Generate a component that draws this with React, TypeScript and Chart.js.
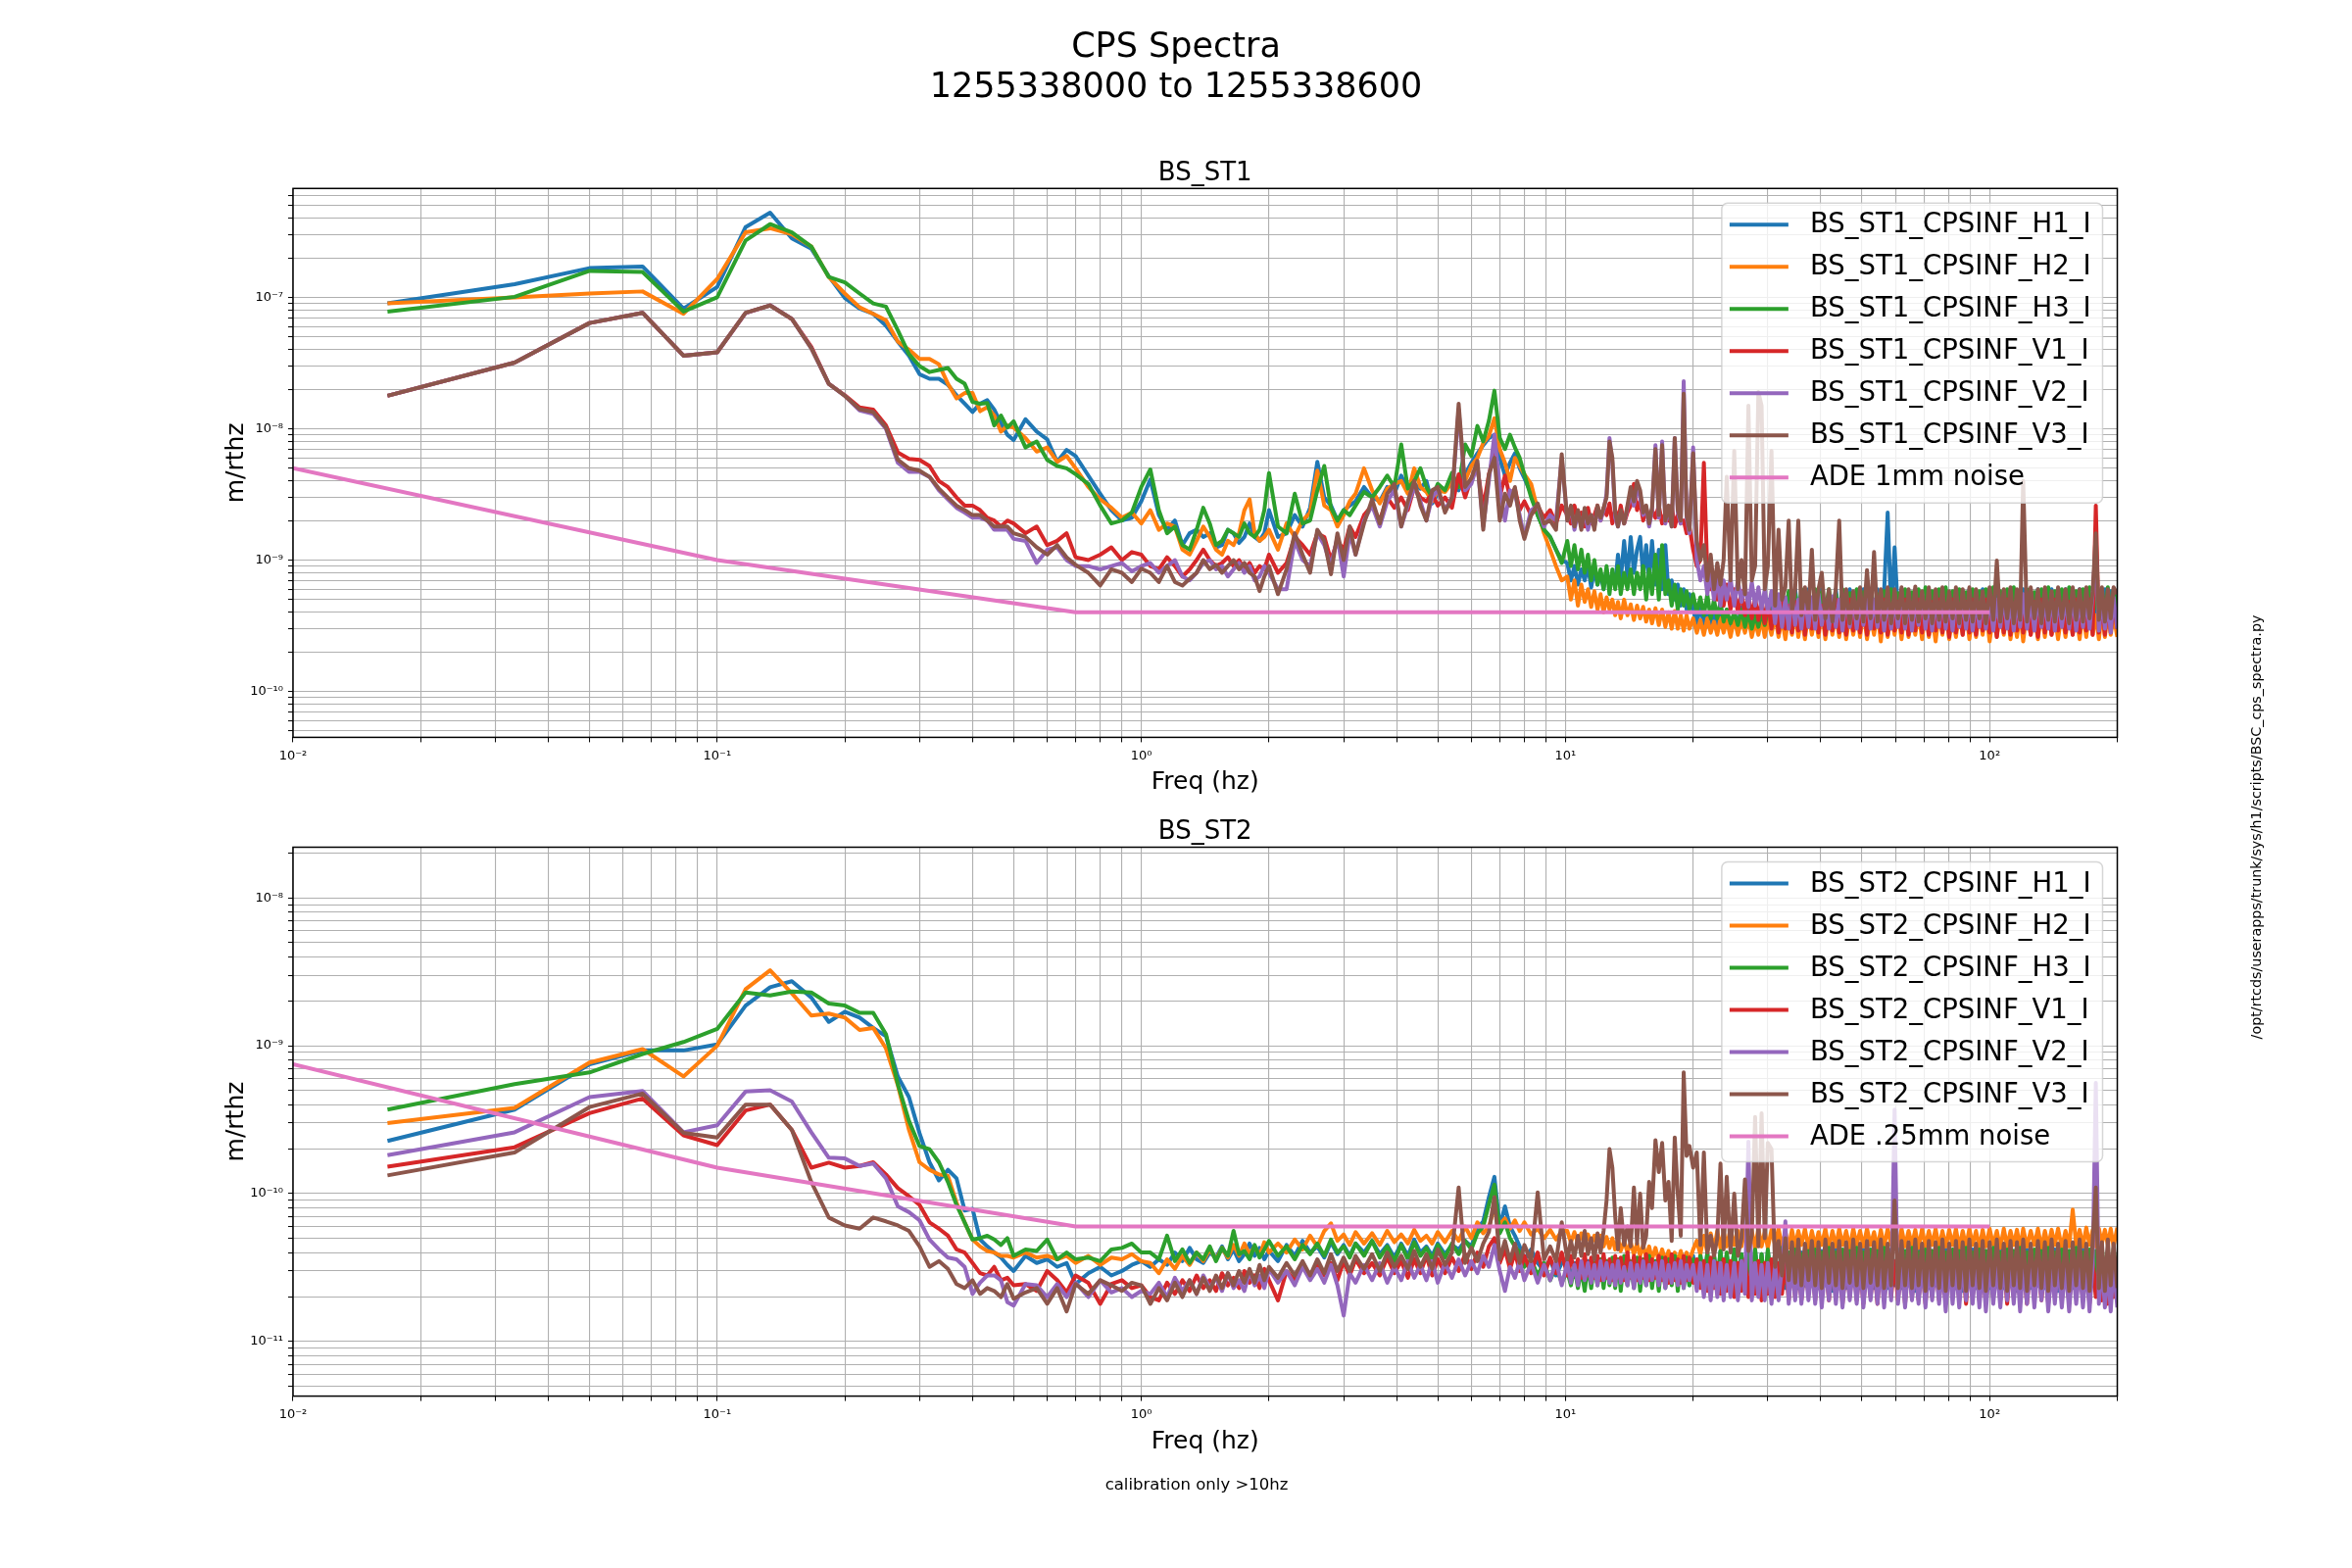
import { useEffect, useRef } from "react";
import { Chart, registerables } from "chart.js";

Chart.register(...registerables);

const FONT = "'DejaVu Sans', 'Liberation Sans', sans-serif";
Chart.defaults.font.family = FONT;

const COLORS = ["#1f77b4", "#ff7f0e", "#2ca02c", "#d62728", "#9467bd", "#8c564b", "#e377c2"];
const LINE_W = 4;

// Frequency grid (Hz) shared by every CPS spectrum
const FREQ = [
  0.0167, 0.0333, 0.05, 0.0667, 0.0833, 0.1, 0.1167, 0.1333, 0.15, 0.1667,
  0.1833, 0.2, 0.2167, 0.2333, 0.25, 0.2667, 0.2833, 0.3, 0.3167, 0.3333,
  0.35, 0.3667, 0.3833, 0.4, 0.4167, 0.4333, 0.45, 0.4667, 0.4833, 0.5,
  0.5333, 0.5667, 0.6, 0.6333, 0.6667, 0.7, 0.75, 0.8, 0.85, 0.9,
  0.95, 1.0,
  1.05, 1.1, 1.15, 1.2, 1.25, 1.3, 1.35, 1.4, 1.45, 1.5,
  1.55, 1.6, 1.65, 1.7, 1.75, 1.8, 1.85, 1.9, 1.95, 2.0,
  2.1, 2.2, 2.3, 2.4, 2.5, 2.6, 2.7, 2.8, 2.9, 3.0,
  3.1, 3.2, 3.35, 3.5, 3.65, 3.8, 3.95, 4.1, 4.25, 4.4,
  4.55, 4.7, 4.85, 5.0, 5.2, 5.4, 5.6, 5.8, 6.0, 6.2,
  6.4, 6.6, 6.8, 7.0, 7.2, 7.4, 7.6, 7.8, 8.0, 8.3,
  8.6, 8.9, 9.2, 9.5, 9.8,
  10.1, 10.3, 10.5, 10.7, 10.9, 11.1, 11.3, 11.5, 11.7, 11.9,
  12.1, 12.3, 12.5, 12.7, 12.9, 13.1, 13.3, 13.5, 13.75, 14,
  14.25, 14.5, 14.75, 15, 15.25, 15.5, 15.75, 16, 16.3, 16.6,
  16.9, 17.2, 17.5, 17.8, 18.1, 18.4, 18.7, 19, 19.3, 19.6,
  20, 20.4, 20.8, 21.2, 21.6, 22, 22.4, 22.8, 23.2, 23.6,
  24, 24.5, 25, 25.5, 26, 26.5, 27, 27.5, 28, 28.5,
  29, 29.5, 30, 30.6, 31.2, 31.8, 32.4, 33, 33.6, 34.2,
  34.8, 35.4, 36, 36.7, 37.4, 38.1, 38.8, 39.5, 40.2, 41,
  41.8, 42.6, 43.4, 44.2, 45, 45.9, 46.8, 47.7, 48.6, 49.5,
  50.4, 51.4, 52.4, 53.4, 54.4, 55.4, 56.4, 57.5, 58.6, 59.7,
  60.8, 62, 63.2, 64.4, 65.6, 66.8, 68, 69.3, 70.6, 71.9,
  73.2, 74.6, 76, 77.4, 78.8, 80.3, 81.8, 83.3, 84.8, 86.4,
  88, 89.6, 91.2, 92.9, 94.6, 96.3, 98, 100, 102, 104,
  106, 108, 110, 112, 114, 116, 118, 120, 122.5, 125,
  127.5, 130, 132.5, 135, 137.5, 140, 142.5, 145, 148, 151,
  154, 157, 160, 163, 166, 169, 172, 175, 178, 181,
  184, 187, 190, 193, 196, 200,
];

// ---- BS_ST1 spectra, in units of 1e-9 m/rtHz ----
const ST1_UNIT = 1e-9;
const ST1_H1 = [
  90, 126, 167, 172, 82, 120, 343, 441, 281, 235,
  145, 99, 82, 75, 61, 46, 36, 26, 24, 24,
  21.6, 18, 15.5, 13.4, 15.5, 16.5, 14, 11, 9, 8.2,
  11.8, 9.5, 8.3, 5.6, 6.9, 6.2, 4.4, 3.2, 2.4, 2.0,
  2.1, 2.8,
  4.1, 2.2, 1.7, 2.0, 1.3, 1.6, 1.7, 1.5, 1.6, 1.25,
  1.3, 1.7, 1.6, 1.35, 1.5, 1.9, 1.5, 1.4, 1.6, 2.4,
  1.5, 1.6, 2.2, 1.8, 2.5, 5.6, 3.0, 2.6, 2.0, 2.4,
  2.6, 2.8, 3.6, 3.0, 2.8, 3.6, 3.2, 4.4, 3.4, 3.8,
  3.5, 4.0, 2.7, 3.2, 3.5, 3.8, 3.4, 4.5, 5.5, 6.5,
  7.5, 8.5, 9.0, 6.0, 4.4, 5.5, 6.5, 5.0, 4.2, 3.2,
  2.2, 1.7, 1.5, 1.2, 1.0,
  0.95, 0.7, 0.9, 0.65, 0.85, 0.7, 0.9, 0.62, 0.85, 0.65,
  0.8, 0.6, 0.85, 0.62, 0.8, 0.65, 1.1, 0.7, 1.4, 0.75,
  1.5, 0.8, 1.2, 1.5, 0.75, 1.3, 0.7, 1.4, 0.65, 1.2,
  0.6, 1.3, 0.55, 0.7, 0.5, 0.65, 0.45, 0.6, 0.42, 0.55,
  0.42, 0.33, 0.45, 0.32, 0.4, 0.31, 0.42, 0.3, 0.4, 0.32,
  0.42, 0.3, 0.4, 0.32, 0.44, 0.3, 0.42, 0.33, 0.45, 0.32,
  0.45, 0.34, 0.5, 0.36, 0.55, 0.38, 0.58, 0.37, 0.55, 0.38,
  0.6, 0.37, 0.56, 0.38, 0.6, 0.36, 0.58, 0.4, 0.6, 0.37,
  0.56, 0.38, 0.6, 0.36, 0.58, 0.38, 0.6, 0.37, 0.55, 0.38,
  0.6, 0.37, 0.58, 0.38, 0.6, 0.36, 0.57, 2.3, 0.4, 1.25,
  0.4, 0.6, 0.37, 0.58, 0.38, 0.6, 0.36, 0.57, 0.38, 0.6,
  0.37, 0.58, 0.38, 0.6, 0.36, 0.56, 0.38, 0.6, 0.37, 0.58,
  0.38, 0.6, 0.36, 0.57, 0.38, 0.6, 0.37, 0.58, 0.38, 0.6,
  0.36, 0.58, 0.38, 0.6, 0.37, 0.56, 0.38, 0.6, 0.36, 0.58,
  0.38, 0.6, 0.37, 0.57, 0.38, 0.6, 0.36, 0.58, 0.38, 0.6,
  0.37, 0.58, 0.38, 0.6, 0.36, 0.57, 0.38, 0.6, 0.37, 0.58,
  0.38, 0.6, 0.36, 0.58, 0.38, 0.6,
];
const ST1_H2 = [
  90, 100, 107, 111, 75, 138, 313, 336, 302, 244,
  143, 107, 84, 75, 67, 46, 40, 34, 34, 31,
  22, 17, 18.7, 18.7, 13.6, 14.6, 12.6, 9.5, 10.6, 10.2,
  8.5, 6.7, 7.2, 5.6, 6.2, 5.0, 3.6, 2.9, 2.5, 2.1,
  2.3, 1.9,
  2.4, 1.7, 1.9, 1.8, 1.2, 1.1, 1.4, 1.8, 1.5, 1.2,
  1.1, 1.4, 1.3, 1.6, 2.4, 2.9, 1.6, 1.4, 1.5, 1.7,
  1.2, 1.9, 1.5, 2.0, 2.3, 4.8, 2.6, 2.4, 1.8, 2.2,
  2.8, 3.2, 5.0, 3.4, 2.7, 3.5, 3.8, 4.0, 3.2, 5.0,
  3.6, 3.3, 2.8, 3.4, 3.3, 3.9, 3.6, 4.0, 5.2, 6.0,
  7.8, 8.8, 12, 7.0, 5.5, 4.0, 6.0, 5.2, 4.5, 3.8,
  2.4, 1.6, 1.2, 0.9, 0.7,
  0.75, 0.5, 0.7, 0.45, 0.65, 0.48, 0.6, 0.44, 0.58, 0.42,
  0.55, 0.4, 0.52, 0.42, 0.5, 0.38, 0.48, 0.36, 0.5, 0.38,
  0.46, 0.35, 0.45, 0.36, 0.44, 0.34, 0.42, 0.33, 0.43, 0.32,
  0.42, 0.31, 0.4, 0.3, 0.41, 0.3, 0.38, 0.29, 0.38, 0.3,
  0.36, 0.28, 0.35, 0.27, 0.36, 0.28, 0.34, 0.27, 0.36, 0.28,
  0.35, 0.26, 0.36, 0.27, 0.35, 0.28, 0.36, 0.26, 0.34, 0.27,
  0.36, 0.26, 0.35, 0.27, 0.38, 0.26, 0.36, 0.25, 0.38, 0.27,
  0.4, 0.26, 0.37, 0.25, 0.4, 0.27, 0.38, 0.26, 0.42, 0.25,
  0.38, 0.27, 0.4, 0.26, 0.42, 0.25, 0.38, 0.27, 0.4, 0.26,
  0.42, 0.25, 0.38, 0.27, 0.4, 0.24, 0.42, 0.26, 0.38, 0.27,
  0.4, 0.25, 0.42, 0.26, 0.38, 0.27, 0.4, 0.25, 0.42, 0.26,
  0.38, 0.24, 0.4, 0.27, 0.42, 0.25, 0.38, 0.26, 0.4, 0.27,
  0.42, 0.25, 0.38, 0.26, 0.4, 0.27, 0.42, 0.24, 0.38, 0.26,
  0.4, 0.27, 0.42, 0.25, 0.38, 0.26, 0.4, 0.24, 0.42, 0.27,
  0.38, 0.25, 0.4, 0.26, 0.42, 0.27, 0.38, 0.25, 0.4, 0.26,
  0.42, 0.27, 0.38, 0.25, 0.4, 0.26, 0.42, 0.27, 0.38, 0.25,
  0.4, 0.26, 0.42, 0.27, 0.38, 0.26,
];
const ST1_H3 = [
  78, 101, 159, 156, 78, 100, 271, 361, 313, 244,
  143, 130, 107, 90, 85, 56, 37, 30, 27, 28,
  29, 24, 22, 16, 15.5, 15.7, 10.6, 12.6, 10.2, 11.4,
  7.2, 8.0, 5.8, 5.2, 5.0, 4.5, 3.8, 2.6, 1.9, 2.0,
  2.3, 3.6,
  4.9, 2.4, 1.6, 1.8, 1.3, 1.2, 1.7, 2.5, 1.9, 1.3,
  1.4, 1.7, 1.6, 1.5, 1.9, 1.6, 1.5, 1.7, 2.4, 4.6,
  1.8, 1.6, 3.2, 1.9, 2.0, 3.4, 5.2, 2.5, 2.0, 2.4,
  2.2, 2.6, 3.3, 3.0, 3.6, 4.4, 3.6, 7.6, 3.5, 4.0,
  5.0, 3.6, 3.0, 3.8, 3.4, 4.6, 3.6, 7.6, 6.2, 10.5,
  8.0, 11.5, 19.5, 8.5, 7.0, 9.0, 7.2, 6.0, 4.5, 3.0,
  2.2, 1.7, 1.5, 1.2, 0.95,
  1.4, 0.9, 1.3, 0.85, 1.2, 0.8, 1.1, 0.7, 1.0, 0.65,
  0.85, 0.6, 0.9, 0.55, 0.85, 0.6, 0.9, 0.55, 0.8, 0.6,
  0.85, 0.55, 0.8, 0.6, 0.9, 0.5, 0.85, 0.55, 1.1, 0.5,
  1.3, 0.55, 0.7, 0.45, 0.65, 0.42, 0.6, 0.45, 0.58, 0.42,
  0.55, 0.4, 0.52, 0.38, 0.55, 0.36, 0.5, 0.36, 0.48, 0.34,
  0.42, 0.33, 0.4, 0.32, 0.42, 0.31, 0.4, 0.3, 0.38, 0.31,
  0.4, 0.32, 0.42, 0.35, 0.5, 0.36, 0.55, 0.38, 0.58, 0.35,
  0.55, 0.37, 0.6, 0.38, 0.56, 0.36, 0.6, 0.38, 0.57, 0.4,
  0.6, 0.37, 0.55, 0.36, 0.6, 0.38, 0.56, 0.37, 0.6, 0.35,
  0.57, 0.38, 0.6, 0.36, 0.55, 0.38, 0.58, 0.36, 0.6, 0.37,
  0.56, 0.35, 0.6, 0.38, 0.57, 0.36, 0.6, 0.37, 0.62, 0.38,
  0.58, 0.36, 0.6, 0.38, 0.62, 0.37, 0.58, 0.36, 0.6, 0.38,
  0.57, 0.36, 0.6, 0.38, 0.58, 0.35, 0.6, 0.37, 0.62, 0.38,
  0.58, 0.36, 0.6, 0.37, 0.62, 0.38, 0.58, 0.36, 0.6, 0.38,
  0.57, 0.36, 0.6, 0.38, 0.62, 0.37, 0.58, 0.36, 0.6, 0.38,
  0.62, 0.37, 0.58, 0.36, 0.6, 0.38, 0.62, 0.37, 0.58, 0.36,
  0.6, 0.38, 0.62, 0.37, 0.6, 0.4,
];
const ST1_V1 = [
  17.8, 31.9, 63.8, 76.3, 36, 38.2, 76, 87, 68.5, 42,
  22, 18, 14.5, 14, 10.6, 6.6, 5.9, 5.8, 5.2, 4.0,
  3.6, 3.0, 2.6, 2.6, 2.4, 2.1, 2.0, 1.8, 2.0, 1.9,
  1.6, 1.8, 1.3, 1.4, 1.6, 1.05, 1.0, 1.1, 1.25, 1.0,
  1.15, 1.1,
  0.9, 0.85, 1.05, 0.9, 0.75, 0.85, 1.0, 1.2, 1.0, 0.9,
  0.95, 1.05, 0.9, 1.0, 0.85, 0.95, 0.8, 0.9, 0.85, 1.1,
  0.8, 0.95, 1.5, 1.3, 1.1, 1.6, 1.5, 1.0, 1.4, 1.2,
  1.8, 1.5, 2.2, 2.6, 2.0, 3.0, 2.5, 3.0, 2.4, 3.6,
  3.0, 2.8, 3.2, 2.6, 3.0, 2.5, 4.5, 3.0, 4.2, 5.0,
  2.5, 4.5, 6.5, 3.0, 4.4, 3.0, 3.5, 2.4, 2.8, 2.2,
  2.6, 2.1, 2.4, 1.9, 2.6,
  2.2, 1.9, 2.6, 2.0, 2.3, 1.8, 2.5, 1.9, 2.2, 2.6,
  2.0, 2.5, 2.2, 2.7, 1.9, 2.4, 2.0, 2.6, 1.9, 2.3,
  2.6, 3.8, 2.4, 2.8, 2.0, 2.5, 1.9, 2.4, 2.1, 2.6,
  1.9, 2.3, 2.0, 2.6, 1.8, 2.2, 1.9, 2.0, 1.6, 1.8,
  1.2, 0.9, 1.0, 5.5, 0.8, 0.6, 0.75, 0.5, 0.7, 0.45,
  0.65, 0.42, 0.6, 0.4, 0.58, 0.38, 0.55, 0.36, 0.52, 0.35,
  0.5, 0.33, 0.48, 0.3, 0.46, 0.28, 0.5, 0.3, 0.45, 0.28,
  0.48, 0.29, 0.5, 0.27, 0.46, 0.3, 0.5, 0.28, 0.45, 0.27,
  0.48, 0.29, 0.5, 0.28, 0.46, 0.27, 0.5, 0.29, 0.45, 0.28,
  0.48, 0.27, 0.5, 0.3, 0.46, 0.28, 0.5, 0.27, 0.45, 0.29,
  0.48, 0.28, 0.5, 0.27, 0.46, 0.29, 0.5, 0.28, 0.45, 0.27,
  0.48, 0.29, 0.5, 0.28, 0.46, 0.26, 0.5, 0.28, 0.45, 0.27,
  0.48, 0.28, 0.5, 0.27, 0.46, 0.29, 0.5, 0.28, 0.45, 0.26,
  0.48, 0.28, 0.5, 0.27, 0.46, 0.29, 0.5, 0.28, 0.45, 0.27,
  0.48, 0.26, 0.5, 0.28, 0.46, 0.27, 0.5, 0.29, 0.45, 0.28,
  0.48, 0.27, 0.5, 0.28, 0.46, 0.29, 0.5, 0.27, 2.6, 0.28,
  0.48, 0.27, 0.5, 0.28, 0.46, 0.3,
];
const ST1_V2 = [
  17.8, 31.9, 63.8, 76.3, 36, 38.2, 76, 87, 68.5, 41,
  22, 17.8, 13.8, 13, 10, 5.5, 4.7, 4.7, 4.3, 3.4,
  2.9, 2.5, 2.3, 2.1, 2.1, 2.0, 1.7, 1.7, 1.7, 1.45,
  1.4, 0.95, 1.2, 1.25, 1.0, 0.9, 0.9, 0.85, 0.9, 0.95,
  0.82, 0.9,
  0.95, 0.8, 0.9, 1.0, 0.75, 0.7, 0.8, 0.95, 1.0, 0.85,
  0.9, 0.75, 0.85, 0.95, 0.8, 0.9, 0.7, 0.75, 0.9, 0.8,
  0.6, 0.6, 1.4, 1.0, 0.9, 1.6, 1.3, 0.9, 1.5, 0.75,
  1.6, 1.1, 2.0, 2.6, 1.8, 2.8, 3.4, 1.8, 2.6, 3.6,
  2.8, 2.0, 3.0, 3.4, 2.4, 3.0, 14, 3.4, 3.8, 5.4,
  1.8, 4.0, 9.0, 3.6, 2.0, 3.4, 3.2, 2.2, 1.5, 2.4,
  2.6, 1.8, 2.2, 2.0, 6.0,
  2.0, 2.5, 1.7, 2.3, 1.8, 2.4, 1.7, 2.2, 1.8, 2.5,
  2.0, 2.4, 3.2, 8.5, 5.5, 2.1, 1.8, 2.3, 1.9, 2.5,
  3.2, 2.6, 3.6, 3.0, 2.2, 2.5, 1.8, 2.4, 7.5, 2.1,
  8.0, 1.9, 2.5, 1.8, 8.5, 2.3, 1.9, 23, 2.1, 1.6,
  7.2, 1.0, 0.7, 0.9, 0.55, 0.8, 0.5, 0.75, 0.45, 0.7,
  0.5, 0.72, 0.45, 0.7, 0.48, 0.65, 0.44, 0.68, 0.45, 0.62,
  0.42, 0.6, 0.4, 0.58, 0.33, 0.55, 0.31, 0.52, 0.3, 0.55,
  0.32, 0.5, 0.3, 0.54, 0.31, 0.52, 0.3, 0.55, 0.32, 0.5,
  0.3, 0.53, 0.31, 0.5, 0.29, 0.55, 0.31, 0.52, 0.3, 0.5,
  0.32, 0.54, 0.3, 0.5, 0.31, 0.55, 0.29, 0.52, 0.3, 0.5,
  0.31, 0.54, 0.3, 0.52, 0.29, 0.5, 0.32, 0.55, 0.3, 0.52,
  0.29, 0.5, 0.31, 0.54, 0.3, 0.52, 0.29, 0.55, 0.31, 0.5,
  0.3, 0.53, 0.29, 0.5, 0.31, 0.55, 0.3, 0.52, 0.29, 0.5,
  0.31, 0.54, 0.3, 0.5, 0.29, 0.52, 0.31, 0.55, 0.3, 0.5,
  0.29, 0.53, 0.31, 0.5, 0.3, 0.55, 0.29, 0.52, 0.31, 0.5,
  0.3, 0.54, 0.29, 0.5, 0.31, 0.52, 0.3, 0.55, 1.3, 0.29,
  0.52, 0.3, 0.5, 0.28, 0.52, 0.3,
];
const ST1_V3 = [
  17.8, 31.9, 63.8, 76.3, 36, 38.2, 76.3, 86.7, 68.5, 41,
  22, 17.8, 14.1, 13.4, 10.2, 5.8, 5.0, 4.8, 4.3, 3.5,
  3.0, 2.6, 2.4, 2.2, 2.2, 2.0, 1.8, 1.8, 1.8, 1.6,
  1.5, 1.25, 1.1, 1.3, 1.05, 0.92, 0.8, 0.64, 0.85, 0.8,
  0.68, 0.86,
  0.8, 0.68, 0.9, 0.68, 0.64, 0.72, 0.8, 1.0, 0.85, 0.92,
  0.8, 0.9, 1.0, 0.85, 0.95, 0.8, 0.75, 0.58, 0.75, 0.9,
  0.55, 0.85, 1.6, 1.1, 0.8, 1.7, 1.4, 0.78, 1.6, 1.0,
  1.8, 1.1, 1.9, 2.9, 1.9, 3.2, 3.8, 1.8, 2.8, 4.0,
  2.6, 2.0, 3.4, 3.6, 2.3, 3.0, 15.5, 3.6, 4.2, 5.7,
  1.7, 4.5, 6.0, 2.0, 3.2, 2.6, 3.6, 2.0, 1.45, 2.2,
  2.7, 1.9, 2.0, 1.7, 6.4,
  2.0, 2.6, 1.8, 2.4, 1.7, 2.5, 1.9, 2.2, 1.7, 2.6,
  2.1, 2.5, 3.0, 8.0, 6.0, 2.3, 1.8, 2.4, 1.9, 2.6,
  3.6, 2.8, 4.0, 3.4, 2.3, 2.6, 1.9, 2.5, 7.0, 2.2,
  7.5, 2.0, 2.6, 1.8, 8.5, 2.4, 2.0, 18.5, 2.2, 1.7,
  6.5, 1.4, 1.0, 1.3, 0.7, 1.1, 0.6, 0.95, 0.65, 1.0,
  4.3, 0.7, 6.8, 0.6, 1.0, 0.55, 15, 0.7, 0.9, 19,
  15, 0.6, 0.9, 6.8, 0.45, 1.7, 0.5, 0.62, 2.0, 0.4,
  0.6, 2.0, 0.38, 0.62, 0.4, 1.2, 0.35, 0.6, 0.8, 0.36,
  0.6, 0.34, 0.62, 2.0, 0.35, 0.6, 0.33, 0.58, 0.36, 0.62,
  0.34, 0.84, 0.36, 1.15, 0.34, 0.6, 0.35, 0.62, 0.33, 0.6,
  0.36, 0.62, 0.33, 0.6, 0.35, 0.63, 0.34, 0.58, 0.36, 0.62,
  0.33, 0.6, 0.35, 0.62, 0.34, 0.58, 0.36, 0.62, 0.33, 0.6,
  0.35, 0.62, 0.34, 0.6, 0.36, 0.58, 0.33, 0.62, 0.35, 0.99,
  0.34, 0.6, 0.36, 0.62, 0.33, 0.6, 0.35, 4.0, 0.34, 0.62,
  0.36, 0.6, 0.33, 0.62, 0.35, 0.58, 0.34, 0.62, 0.36, 0.6,
  0.33, 0.62, 0.35, 0.6, 0.34, 0.62, 0.36, 0.58, 1.6, 0.35,
  0.62, 0.34, 0.6, 0.36, 0.62, 0.55,
];

// ---- BS_ST2 spectra, in units of 1e-11 m/rtHz ----
const ST2_UNIT = 1e-11;
const ST2_H1 = [
  22.7, 37, 75, 93, 93, 102, 187, 249, 273, 212,
  145, 170, 155, 132, 116, 62, 45, 25.6, 16.3, 12.3,
  14.5, 12.7, 7.7, 7.9, 4.9, 4.4, 4.0, 3.7, 3.3, 3.0,
  3.8, 3.4, 3.6, 3.2, 3.4, 2.45, 2.9, 3.2, 2.8, 3.0,
  3.3, 3.5,
  3.2, 3.6, 3.3, 4.0, 3.5, 4.3, 3.6, 3.4, 4.0, 3.7,
  4.4, 3.6, 4.2, 3.5, 3.9, 4.6, 3.8, 4.3, 3.6, 4.1,
  3.5, 4.5, 3.8, 4.8, 4.0, 4.4, 3.7, 4.7, 3.9, 4.5,
  3.8, 4.6, 4.0, 4.8, 3.9, 4.5, 3.7, 4.6, 3.8, 4.9,
  4.0, 4.4, 3.8, 4.6, 3.9, 4.5, 4.2, 4.8, 4.4, 5.8,
  6.5, 9.5, 13, 6.0, 8.2, 6.0, 5.2, 4.4, 3.6, 4.2,
  3.4, 3.0, 3.6, 2.8, 3.4,
  3.6, 2.6, 3.4, 2.5, 3.3, 2.6, 3.5, 2.7, 3.4, 2.6,
  3.6, 2.7, 3.3, 2.5, 3.4, 2.6, 3.5, 2.7, 3.3, 2.5,
  3.4, 2.6, 3.6, 2.7, 3.3, 2.5, 3.4, 2.6, 3.5, 2.7,
  3.3, 2.5, 3.4, 2.6, 3.3, 2.5, 3.4, 2.6, 3.5, 2.4,
  3.8, 2.5, 3.9, 2.4, 4.0, 2.5, 3.8, 2.4, 4.1, 2.5,
  3.9, 2.4, 4.2, 2.5, 3.9, 2.3, 4.0, 2.4, 4.2, 2.5,
  3.9, 2.3, 4.1, 2.4, 4.0, 2.5, 4.2, 2.3, 3.9, 2.4,
  4.1, 2.3, 4.0, 2.4, 4.2, 2.5, 3.9, 2.3, 4.1, 2.4,
  4.0, 2.2, 4.2, 2.4, 3.9, 2.3, 4.1, 2.4, 4.0, 2.3,
  4.2, 2.4, 3.9, 2.3, 4.1, 2.4, 4.0, 2.3, 4.2, 2.4,
  3.9, 2.3, 4.1, 2.4, 4.0, 2.2, 4.2, 2.4, 3.9, 2.3,
  4.1, 2.4, 4.0, 2.3, 4.2, 2.4, 3.9, 2.3, 4.1, 2.2,
  4.0, 2.4, 4.2, 2.3, 3.9, 2.4, 4.1, 2.3, 4.0, 2.4,
  4.2, 2.3, 3.9, 2.4, 4.1, 2.2, 4.0, 2.4, 4.2, 2.3,
  3.9, 2.4, 4.1, 2.3, 4.0, 2.4, 4.2, 2.2, 3.9, 2.4,
  4.1, 2.3, 4.0, 2.4, 4.2, 2.3, 3.9, 2.4, 4.1, 2.3,
  4.0, 2.4, 4.2, 2.3, 3.9, 2.4,
];
const ST2_H2 = [
  30, 38, 77, 95, 62, 100, 241, 324, 226, 160,
  165, 155, 128, 132, 96, 54, 27, 16.3, 14.5, 13.5,
  13.2, 8.7, 6.4, 4.9, 4.4, 4.1, 4.0, 3.8, 3.8, 3.7,
  4.0, 3.7, 3.8, 3.6, 3.8, 3.4, 3.8, 3.3, 3.7, 3.6,
  3.9, 3.5,
  3.4, 2.9, 3.6, 3.1, 3.8, 3.3, 4.0, 3.5, 4.2, 3.6,
  4.3, 3.7, 4.5, 3.8, 4.6, 3.9, 4.4, 3.8, 4.7, 4.0,
  4.6, 4.0, 4.9, 4.2, 5.2, 4.4, 5.6, 6.3, 4.8, 5.3,
  4.5, 5.5, 4.6, 5.4, 4.5, 5.6, 4.7, 5.3, 4.6, 5.7,
  4.8, 5.2, 4.6, 5.5, 4.7, 5.6, 4.8, 6.0, 5.0, 6.4,
  5.4, 6.0, 8.0, 6.2, 6.8, 5.8, 6.6, 5.6, 6.4, 5.3,
  5.8, 5.0, 5.7, 4.9, 5.6,
  5.6, 4.7, 5.5, 4.6, 5.4, 4.5, 5.3, 4.6, 5.2, 4.4,
  5.2, 4.4, 5.1, 4.3, 5.0, 4.2, 4.9, 4.1, 4.8, 4.0,
  4.7, 3.9, 4.6, 3.8, 4.5, 3.7, 4.4, 3.6, 4.3, 3.5,
  4.2, 3.5, 4.1, 3.4, 4.0, 3.4, 4.1, 3.3, 4.0, 3.5,
  4.2, 4.8, 3.9, 5.2, 4.0, 5.4, 4.2, 5.6, 4.3, 5.5,
  4.4, 5.8, 4.5, 5.6, 4.4, 5.8, 4.5, 5.6, 4.3, 5.8,
  4.4, 5.5, 4.3, 5.7, 4.5, 5.8, 4.4, 5.5, 4.3, 5.7,
  4.4, 5.6, 4.5, 5.8, 4.3, 5.6, 4.4, 5.5, 4.5, 5.8,
  4.3, 5.6, 4.4, 5.8, 4.5, 5.6, 4.3, 5.8, 4.5, 5.6,
  4.4, 5.8, 4.5, 5.5, 4.3, 5.7, 4.4, 5.8, 4.5, 5.6,
  4.3, 5.8, 4.4, 5.6, 4.5, 5.7, 4.3, 5.8, 4.4, 5.6,
  4.5, 5.8, 4.3, 5.6, 4.4, 5.7, 4.5, 5.8, 4.3, 5.6,
  4.4, 5.8, 4.5, 5.6, 4.3, 5.7, 4.4, 5.8, 4.5, 5.6,
  4.3, 5.8, 4.4, 5.6, 4.5, 5.7, 4.3, 5.8, 4.4, 5.6,
  4.5, 5.8, 4.3, 5.6, 4.4, 5.7, 4.5, 5.8, 4.3, 5.6,
  4.4, 7.8, 4.5, 5.7, 4.4, 5.9, 4.5, 5.7, 4.4, 5.8,
  4.6, 5.7, 4.5, 5.8, 4.4, 5.9,
];
const ST2_H3 = [
  37, 55, 66, 88, 106, 130, 229, 219, 233, 229,
  193, 187, 167, 167, 120, 55, 31, 21, 20, 16.3,
  12, 8.4, 6.4, 4.9, 5.0, 5.2, 4.9, 4.5, 5.0, 3.8,
  4.2, 4.1, 4.9, 3.6, 4.0, 3.6, 3.7, 3.5, 4.2, 4.3,
  4.6, 4.0,
  4.0, 3.6, 5.2, 3.5, 4.2, 3.4, 4.0, 3.6, 4.4, 3.5,
  4.3, 3.8, 5.6, 3.9, 4.1, 3.6, 4.5, 3.7, 4.2, 4.8,
  3.8, 4.4, 3.6, 4.5, 3.9, 4.6, 3.8, 4.9, 4.0, 4.4,
  3.7, 4.6, 3.8, 4.8, 3.7, 4.4, 3.5, 4.5, 3.6, 4.7,
  3.8, 4.3, 3.6, 4.5, 3.7, 4.6, 3.9, 4.8, 4.2, 5.4,
  6.0, 8.5, 11.5, 5.4, 6.4, 5.0, 4.4, 4.0, 3.2, 3.6,
  2.8, 3.4, 2.6, 3.2, 2.5,
  3.0, 2.4, 3.2, 2.3, 3.1, 2.2, 3.3, 2.3, 3.4, 2.4,
  3.6, 2.3, 3.5, 2.4, 3.7, 2.3, 3.6, 2.2, 3.8, 2.4,
  3.5, 2.3, 3.7, 2.2, 3.6, 2.4, 3.8, 2.3, 3.5, 2.2,
  3.7, 2.3, 3.6, 2.4, 3.8, 2.2, 3.5, 2.3, 3.7, 2.4,
  3.6, 2.4, 3.8, 2.5, 4.0, 2.4, 3.9, 2.5, 4.1, 2.4,
  4.0, 2.5, 4.2, 2.4, 3.9, 2.5, 4.1, 2.4, 4.2, 2.5,
  3.9, 2.4, 4.2, 2.5, 4.0, 2.4, 4.3, 2.5, 4.0, 2.4,
  4.2, 2.5, 3.9, 2.4, 4.1, 2.5, 4.2, 2.4, 4.0, 2.5,
  4.3, 2.4, 4.0, 2.5, 4.2, 2.4, 4.1, 2.5, 4.3, 2.4,
  4.0, 2.5, 4.2, 2.4, 4.1, 2.5, 4.3, 2.4, 4.0, 2.5,
  4.2, 2.4, 4.1, 2.5, 4.3, 2.4, 4.0, 2.5, 4.2, 2.4,
  4.1, 2.5, 4.3, 2.4, 4.0, 2.5, 4.2, 2.4, 4.1, 2.5,
  4.3, 2.4, 4.0, 2.5, 4.2, 2.4, 4.1, 2.5, 4.3, 2.4,
  4.0, 2.5, 4.2, 2.4, 4.1, 2.5, 4.3, 2.4, 4.0, 2.5,
  4.2, 2.4, 4.1, 2.5, 4.3, 2.4, 4.0, 2.5, 4.2, 2.4,
  4.1, 2.5, 4.3, 2.4, 4.0, 2.5, 4.2, 2.4, 4.1, 2.5,
  4.3, 2.4, 4.1, 2.5, 4.3, 2.6,
];
const ST2_V1 = [
  15.2, 20.6, 35, 44, 24.8, 21.3, 36.5, 40, 27, 15,
  16.2, 15, 15.4, 16.3, 13.5, 10.9, 9.6, 8.4, 6.4, 5.8,
  5.2, 4.2, 4.0, 3.4, 2.9, 2.8, 3.2, 2.6, 2.7, 2.4,
  2.45, 2.2, 3.0, 2.6, 2.15, 2.8, 2.5, 1.8, 2.45, 2.6,
  2.3, 2.4,
  2.0, 1.9, 2.5, 2.1, 2.6, 2.2, 2.8, 2.3, 2.6, 2.2,
  2.9, 2.4, 2.7, 2.3, 3.0, 2.5, 2.8, 2.3, 3.1, 2.6,
  1.9, 3.0, 2.6, 3.2, 2.7, 3.3, 2.8, 3.4, 2.6, 3.5,
  2.8, 3.6, 2.9, 3.4, 2.8, 3.7, 2.9, 3.5, 2.7, 3.6,
  2.9, 3.8, 2.8, 3.6, 2.9, 3.7, 3.0, 3.9, 3.1, 4.0,
  3.2, 4.4, 5.0, 3.4, 4.2, 3.1, 4.0, 3.0, 3.8, 2.9,
  4.0, 2.8, 3.7, 2.9, 4.0,
  2.8, 3.8, 2.9, 3.6, 2.7, 3.9, 2.8, 3.7, 2.7, 3.8,
  2.6, 3.9, 2.7, 3.6, 2.6, 3.8, 2.7, 3.7, 2.6, 4.0,
  2.7, 3.8, 2.6, 3.7, 2.7, 3.9, 2.6, 3.6, 2.7, 3.8,
  2.6, 3.7, 2.5, 3.9, 2.6, 3.6, 2.5, 3.8, 2.6, 3.7,
  2.5, 3.6, 2.3, 3.5, 2.2, 3.7, 2.3, 3.4, 2.1, 3.6,
  2.2, 3.5, 2.0, 3.4, 2.2, 3.6, 2.0, 3.4, 2.1, 3.5,
  1.9, 3.4, 2.1, 3.6, 2.0, 3.4, 2.1, 3.5, 1.9, 3.4,
  2.0, 3.6, 1.9, 3.4, 2.1, 3.5, 1.9, 3.4, 2.0, 3.6,
  1.9, 3.4, 2.0, 3.5, 1.8, 3.4, 2.0, 3.6, 1.9, 3.4,
  1.8, 3.5, 2.0, 3.4, 1.8, 3.6, 1.9, 3.4, 2.0, 3.5,
  1.9, 3.4, 1.8, 3.6, 2.0, 3.4, 1.9, 3.5, 1.8, 3.4,
  2.0, 3.6, 1.9, 3.4, 1.8, 3.5, 2.0, 3.4, 1.9, 3.6,
  1.8, 3.4, 2.0, 3.5, 1.9, 3.4, 1.8, 3.6, 2.0, 3.4,
  1.9, 3.5, 1.8, 3.4, 2.0, 3.6, 1.9, 3.4, 1.8, 3.5,
  2.0, 3.4, 1.9, 3.6, 1.8, 3.4, 2.0, 3.5, 1.9, 3.4,
  1.8, 3.6, 2.0, 3.4, 1.9, 3.5, 1.8, 3.4, 2.0, 3.6,
  1.9, 3.4, 1.8, 3.5, 2.0, 3.4,
];
const ST2_V2 = [
  18.2, 26, 45, 49.5, 26, 29, 49, 50, 42, 26,
  17.5, 17.3, 15.4, 16, 12.7, 8.2, 7.5, 6.6, 4.9, 4.2,
  3.7, 3.6, 3.2, 2.1, 2.5, 2.8, 2.8, 2.6, 1.85, 1.75,
  2.45, 2.4, 2.0, 2.45, 2.0, 2.5, 2.0, 2.6, 2.15, 2.3,
  2.0, 2.2,
  2.1, 2.5, 2.0, 2.7, 2.2, 2.6, 2.1, 2.8, 2.3, 2.7,
  2.2, 2.9, 2.3, 2.6, 2.2, 3.0, 2.4, 2.8, 2.3, 3.1,
  2.5, 3.0, 2.4, 3.2, 2.6, 3.1, 2.5, 3.3, 2.4, 1.5,
  2.9, 2.5, 3.3, 2.6, 3.4, 2.5, 3.2, 2.6, 3.5, 2.7,
  3.3, 2.6, 3.5, 2.5, 3.4, 2.7, 3.6, 2.8, 3.5, 2.9,
  3.8, 3.2, 4.5, 3.0, 2.2, 3.2, 2.7, 3.5, 2.6, 3.4,
  2.5, 3.3, 2.6, 3.5, 2.4,
  3.4, 2.5, 3.3, 2.4, 3.5, 2.6, 3.4, 2.5, 3.3, 2.4,
  3.5, 2.6, 3.4, 2.5, 3.3, 2.4, 3.5, 2.5, 3.2, 2.4,
  3.4, 2.3, 3.3, 2.5, 3.5, 2.4, 3.3, 2.6, 3.4, 2.4,
  3.5, 2.3, 3.3, 2.5, 3.4, 2.4, 3.5, 2.3, 3.3, 2.6,
  3.3, 2.2, 3.4, 2.0, 3.3, 1.9, 3.5, 2.0, 3.4, 1.9,
  3.3, 2.0, 3.4, 1.9, 3.5, 2.1, 22.5, 1.9, 3.4, 2.0,
  3.3, 1.9, 3.4, 1.8, 3.3, 1.9, 3.2, 6.5, 1.8, 3.4,
  1.9, 3.3, 1.8, 3.4, 1.9, 3.2, 1.8, 3.4, 1.7, 3.3,
  1.9, 3.4, 1.8, 3.2, 1.7, 3.4, 1.9, 3.3, 1.8, 3.4,
  1.7, 3.2, 1.9, 3.4, 1.8, 3.3, 1.7, 3.4, 1.9, 37,
  1.8, 3.3, 1.7, 3.4, 1.9, 3.2, 1.8, 3.4, 1.7, 3.3,
  1.9, 3.4, 1.8, 3.2, 1.6, 3.4, 1.8, 3.3, 1.7, 3.4,
  1.9, 3.2, 1.8, 3.4, 1.7, 3.3, 1.6, 3.4, 1.8, 3.2,
  1.7, 3.4, 1.9, 3.3, 1.8, 3.4, 1.6, 3.2, 1.8, 3.4,
  1.7, 3.3, 1.9, 3.4, 1.6, 3.2, 1.8, 3.4, 1.7, 3.3,
  1.6, 3.4, 1.8, 3.2, 1.7, 3.4, 1.6, 3.3, 56, 1.8,
  3.4, 1.7, 3.2, 1.6, 3.3, 1.7,
];
const ST2_V3 = [
  13.3, 19, 38.5, 47.5, 25.8, 24, 40, 40, 27, 12,
  6.9, 6.1, 5.8, 6.9, 6.5, 6.1, 5.6, 4.4, 3.2, 3.5,
  3.1, 2.45, 2.3, 2.6, 2.1, 2.3, 2.2, 2.0, 2.45, 1.95,
  2.15, 2.3, 1.8, 2.3, 1.6, 2.45, 2.1, 2.6, 2.4, 2.2,
  2.5, 2.4,
  1.8, 2.3, 1.9, 2.5, 2.0, 2.6, 2.1, 2.7, 2.2, 2.8,
  2.3, 2.9, 2.4, 3.0, 2.5, 3.1, 2.5, 3.3, 2.6, 3.2,
  2.7, 3.4, 2.8, 3.5, 2.8, 3.6, 2.9, 3.9, 3.0, 3.7,
  3.0, 3.8, 3.1, 3.9, 3.0, 4.0, 3.2, 3.8, 3.1, 4.1,
  3.2, 3.9, 3.1, 4.2, 3.3, 4.0, 11, 3.4, 4.3, 3.5,
  4.6, 5.5, 9.5, 3.6, 4.8, 3.5, 4.6, 3.4, 4.5, 3.5,
  10.2, 3.6, 4.4, 3.5, 6.4,
  3.6, 4.8, 3.7, 5.2, 3.8, 5.6, 3.9, 5.0, 3.6, 5.4,
  4.0, 5.6, 9, 20, 15, 7, 4.2, 8, 4.5, 6,
  4.4, 11, 4.6, 10, 4.3, 5.2, 12, 8, 23, 14,
  22, 9, 12, 4.8, 24, 10, 5.2, 66, 18, 21,
  15, 19, 4.5, 19, 4.0, 5.2, 3.8, 5.0, 16, 4.2,
  13, 4.0, 10, 3.8, 5.0, 12.5, 4.1, 5.2, 33, 4.4,
  35, 5.0, 22, 20, 3.2, 4.8, 2.8, 5.0, 2.6, 4.7,
  2.5, 4.9, 2.4, 4.6, 2.6, 4.8, 2.4, 4.7, 2.3, 4.9,
  2.5, 4.6, 2.4, 4.8, 2.3, 4.7, 2.5, 4.9, 2.4, 4.6,
  2.3, 4.8, 2.5, 4.7, 2.4, 4.9, 2.3, 4.6, 2.4, 9,
  2.3, 4.8, 2.4, 4.7, 2.3, 4.9, 2.4, 4.6, 2.2, 4.8,
  2.4, 4.7, 2.3, 4.9, 2.2, 4.6, 2.4, 4.8, 2.3, 4.7,
  2.2, 4.9, 2.4, 4.6, 2.3, 4.8, 2.2, 4.7, 2.4, 4.9,
  2.3, 4.6, 2.2, 4.8, 2.4, 4.7, 2.3, 4.9, 2.2, 4.6,
  2.4, 4.8, 2.3, 4.7, 2.2, 4.9, 2.4, 4.6, 2.3, 4.8,
  2.2, 4.7, 2.4, 4.9, 2.3, 4.6, 2.2, 4.8, 11, 2.3,
  4.7, 2.2, 4.9, 2.4, 4.6, 2.3,
];

// ADE noise reference lines
const ADE_FREQ = [0.01, 0.1, 0.7, 100];
const ADE_1MM = [5e-9, 1e-9, 4e-10, 4e-10];
const ADE_025MM = [7.5e-10, 1.5e-10, 6e-11, 6e-11];

const ST1_NAMES = [
  "BS_ST1_CPSINF_H1_I", "BS_ST1_CPSINF_H2_I", "BS_ST1_CPSINF_H3_I",
  "BS_ST1_CPSINF_V1_I", "BS_ST1_CPSINF_V2_I", "BS_ST1_CPSINF_V3_I", "ADE 1mm noise",
];
const ST2_NAMES = [
  "BS_ST2_CPSINF_H1_I", "BS_ST2_CPSINF_H2_I", "BS_ST2_CPSINF_H3_I",
  "BS_ST2_CPSINF_V1_I", "BS_ST2_CPSINF_V2_I", "BS_ST2_CPSINF_V3_I", "ADE .25mm noise",
];

const X_RANGE = [0.01, 200];
const ST1_Y_RANGE = [4.47e-11, 6.75e-7];
const ST2_Y_RANGE = [4.28e-12, 2.2e-8];

const W = 2400;
const H = 1600;
const AX_LEFT = 299;
const AX_RIGHT = 2160.5;

const SUP: Record<string, string> = {
  "0": "\u2070", "1": "\u00b9", "2": "\u00b2", "3": "\u00b3", "4": "\u2074",
  "5": "\u2075", "6": "\u2076", "7": "\u2077", "8": "\u2078", "9": "\u2079", "-": "\u207b",
};

function decadeLabel(v: number): string {
  const e = Math.log10(v);
  const r = Math.round(e);
  if (Math.abs(e - r) > 1e-6) return "";
  return "10" + String(r).split("").map((c) => SUP[c] || c).join("");
}

function logTicks(min: number, max: number) {
  const out: { value: number }[] = [];
  for (let e = Math.floor(Math.log10(min)) - 1; e <= Math.ceil(Math.log10(max)); e++) {
    for (let m = 1; m <= 9; m++) {
      const v = m * Math.pow(10, e);
      if (v >= min * 0.999999 && v <= max * 1.000001) out.push({ value: v });
    }
  }
  return out;
}

type Panel = {
  title: string;
  names: string[];
  series: number[][];
  unit: number;
  ade: number[];
  yRange: number[];
  top: number;
  bottom: number;
  figureText: boolean;
};

const PANELS: Panel[] = [
  {
    title: "BS_ST1", names: ST1_NAMES, series: [ST1_H1, ST1_H2, ST1_H3, ST1_V1, ST1_V2, ST1_V3],
    unit: ST1_UNIT, ade: ADE_1MM, yRange: ST1_Y_RANGE, top: 192.3, bottom: 752.4, figureText: true,
  },
  {
    title: "BS_ST2", names: ST2_NAMES, series: [ST2_H1, ST2_H2, ST2_H3, ST2_V1, ST2_V2, ST2_V3],
    unit: ST2_UNIT, ade: ADE_025MM, yRange: ST2_Y_RANGE, top: 864.5, bottom: 1424.6, figureText: false,
  },
];

function roundRect(ctx: CanvasRenderingContext2D, x: number, y: number, w: number, h: number, r: number) {
  ctx.beginPath();
  ctx.moveTo(x + r, y);
  ctx.lineTo(x + w - r, y);
  ctx.arcTo(x + w, y, x + w, y + r, r);
  ctx.lineTo(x + w, y + h - r);
  ctx.arcTo(x + w, y + h, x + w - r, y + h, r);
  ctx.lineTo(x + r, y + h);
  ctx.arcTo(x, y + h, x, y + h - r, r);
  ctx.lineTo(x, y + r);
  ctx.arcTo(x, y, x + r, y, r);
  ctx.closePath();
}

function decorPlugin(panel: Panel) {
  return {
    id: "panelDecor",
    afterDatasetsDraw(chart: any) {
      const ctx: CanvasRenderingContext2D = chart.ctx;
      const a = chart.chartArea;
      ctx.save();
      ctx.strokeStyle = "#000";
      ctx.lineWidth = 1.5;
      ctx.strokeRect(a.left, a.top, a.right - a.left, a.bottom - a.top);

      const cx = (a.left + a.right) / 2;
      ctx.fillStyle = "#000";
      ctx.textAlign = "center";
      ctx.textBaseline = "alphabetic";
      ctx.font = `26px ${FONT}`;
      ctx.fillText(panel.title, cx, a.top - 8.5);
      ctx.font = `25px ${FONT}`;
      ctx.fillText("Freq (hz)", cx, a.bottom + 53);
      ctx.save();
      ctx.translate(248, (a.top + a.bottom) / 2);
      ctx.rotate(-Math.PI / 2);
      ctx.fillText("m/rthz", 0, 0);
      ctx.restore();

      // legend
      const ds = chart.data.datasets;
      const fs = 27.5;
      ctx.font = `${fs}px ${FONT}`;
      let maxW = 0;
      ds.forEach((d: any) => { maxW = Math.max(maxW, ctx.measureText(d.label).width); });
      const rowH = 43;
      const boxW = 8 + 60 + 22 + maxW + 12;
      const boxH = 22 + (ds.length - 1) * rowH + 26;
      const bx = a.right - 15 - boxW;
      const by = a.top + 15;
      roundRect(ctx, bx, by, boxW, boxH, 6);
      ctx.fillStyle = "rgba(255,255,255,0.8)";
      ctx.fill();
      ctx.strokeStyle = "rgba(204,204,204,0.8)";
      ctx.lineWidth = 1.5;
      ctx.stroke();
      ctx.textAlign = "left";
      ctx.textBaseline = "middle";
      ds.forEach((d: any, i: number) => {
        const y = by + 22 + i * rowH;
        ctx.strokeStyle = d.borderColor;
        ctx.lineWidth = LINE_W;
        ctx.beginPath();
        ctx.moveTo(bx + 8, y);
        ctx.lineTo(bx + 68, y);
        ctx.stroke();
        ctx.fillStyle = "#000";
        ctx.fillText(d.label, bx + 90, y + 1);
      });
      ctx.restore();
    },
    afterDraw(chart: any) {
      if (!panel.figureText) return;
      const ctx: CanvasRenderingContext2D = chart.ctx;
      ctx.save();
      ctx.fillStyle = "#000";
      ctx.textAlign = "center";
      ctx.textBaseline = "alphabetic";
      ctx.font = `35px ${FONT}`;
      ctx.fillText("CPS Spectra", 1200, 58);
      ctx.fillText("1255338000 to 1255338600", 1200, 99);
      ctx.font = `16.5px ${FONT}`;
      ctx.fillText("calibration only >10hz", 1221, 1520);
      ctx.save();
      ctx.translate(2303, 844);
      ctx.rotate(-Math.PI / 2);
      ctx.font = `14.3px ${FONT}`;
      ctx.textBaseline = "middle";
      ctx.fillText("/opt/rtcds/userapps/trunk/sys/h1/scripts/BSC_cps_spectra.py", 0, 0);
      ctx.restore();
      const bad: string[] = [];
      PANELS.forEach((p) => p.series.forEach((s, i) => {
        if (s.length !== FREQ.length) bad.push(`${p.title}:${i}:${s.length}/${FREQ.length}`);
      }));
      if (bad.length) {
        ctx.fillStyle = "red";
        ctx.font = `20px ${FONT}`;
        ctx.textAlign = "left";
        ctx.fillText(bad.join("  "), 10, 30);
      }
      ctx.restore();
    },
  };
}

function buildChart(canvas: HTMLCanvasElement, panel: Panel) {
  const datasets: any[] = panel.series.map((arr, i) => ({
    label: panel.names[i],
    data: FREQ.map((f, k) => ({ x: f, y: arr[k] * panel.unit })),
    borderColor: COLORS[i],
    backgroundColor: COLORS[i],
    borderWidth: LINE_W,
    pointRadius: 0,
    tension: 0,
    fill: false,
    borderJoinStyle: "round",
    clip: 0,
    order: 6 - i,
  }));
  datasets.push({
    label: panel.names[6],
    data: ADE_FREQ.map((f, k) => ({ x: f, y: panel.ade[k] })),
    borderColor: COLORS[6],
    backgroundColor: COLORS[6],
    borderWidth: LINE_W,
    pointRadius: 0,
    tension: 0,
    fill: false,
    borderJoinStyle: "round",
    clip: 0,
    order: 0,
  });

  const xAxisHeight = (panel.figureText ? 830 : H) - panel.bottom;
  const padBottom = panel.figureText ? H - 830 : 0;

  return new Chart(canvas, {
    type: "line",
    data: { datasets },
    options: {
      animation: false,
      responsive: false,
      devicePixelRatio: 1,
      events: [],
      parsing: false,
      layout: { padding: { left: 0, right: W - AX_RIGHT, top: panel.top, bottom: padBottom } },
      plugins: { legend: { display: false }, tooltip: { enabled: false }, title: { display: false } },
      scales: {
        x: {
          type: "logarithmic",
          position: "bottom",
          min: X_RANGE[0],
          max: X_RANGE[1],
          afterFit: (s: any) => { s.height = xAxisHeight; },
          afterBuildTicks: (s: any) => { s.ticks = logTicks(X_RANGE[0], X_RANGE[1]); },
          ticks: {
            autoSkip: false, maxRotation: 0, minRotation: 0, padding: 6, color: "#000",
            font: { family: FONT, size: 13 },
            callback: (v: any) => decadeLabel(Number(v)),
          },
          grid: { color: "#b0b0b0", lineWidth: 1.1, tickLength: 5, tickColor: "#000", tickWidth: 1 },
          border: { display: false },
        },
        y: {
          type: "logarithmic",
          position: "left",
          min: panel.yRange[0],
          max: panel.yRange[1],
          afterFit: (s: any) => { s.width = AX_LEFT; },
          afterBuildTicks: (s: any) => { s.ticks = logTicks(panel.yRange[0], panel.yRange[1]); },
          ticks: {
            autoSkip: false, padding: 5, color: "#000",
            font: { family: FONT, size: 13 },
            callback: (v: any) => decadeLabel(Number(v)),
          },
          grid: { color: "#b0b0b0", lineWidth: 1.1, tickLength: 5, tickColor: "#000", tickWidth: 1 },
          border: { display: false },
        },
      },
    } as any,
    plugins: [decorPlugin(panel)],
  });
}

export default function App() {
  const topRef = useRef<HTMLCanvasElement | null>(null);
  const botRef = useRef<HTMLCanvasElement | null>(null);

  useEffect(() => {
    const charts: Chart[] = [];
    if (botRef.current) charts.push(buildChart(botRef.current, PANELS[1]));
    if (topRef.current) charts.push(buildChart(topRef.current, PANELS[0]));
    return () => charts.forEach((c) => c.destroy());
  }, []);

  const canvasStyle: any = { position: "absolute", left: 0, top: 0, width: W, height: H };
  return (
    <div style={{ position: "absolute", left: 0, top: 0, width: W, height: H, background: "#fff", overflow: "hidden" }}>
      <canvas ref={botRef} width={W} height={H} style={canvasStyle} />
      <canvas ref={topRef} width={W} height={H} style={canvasStyle} />
    </div>
  );
}
